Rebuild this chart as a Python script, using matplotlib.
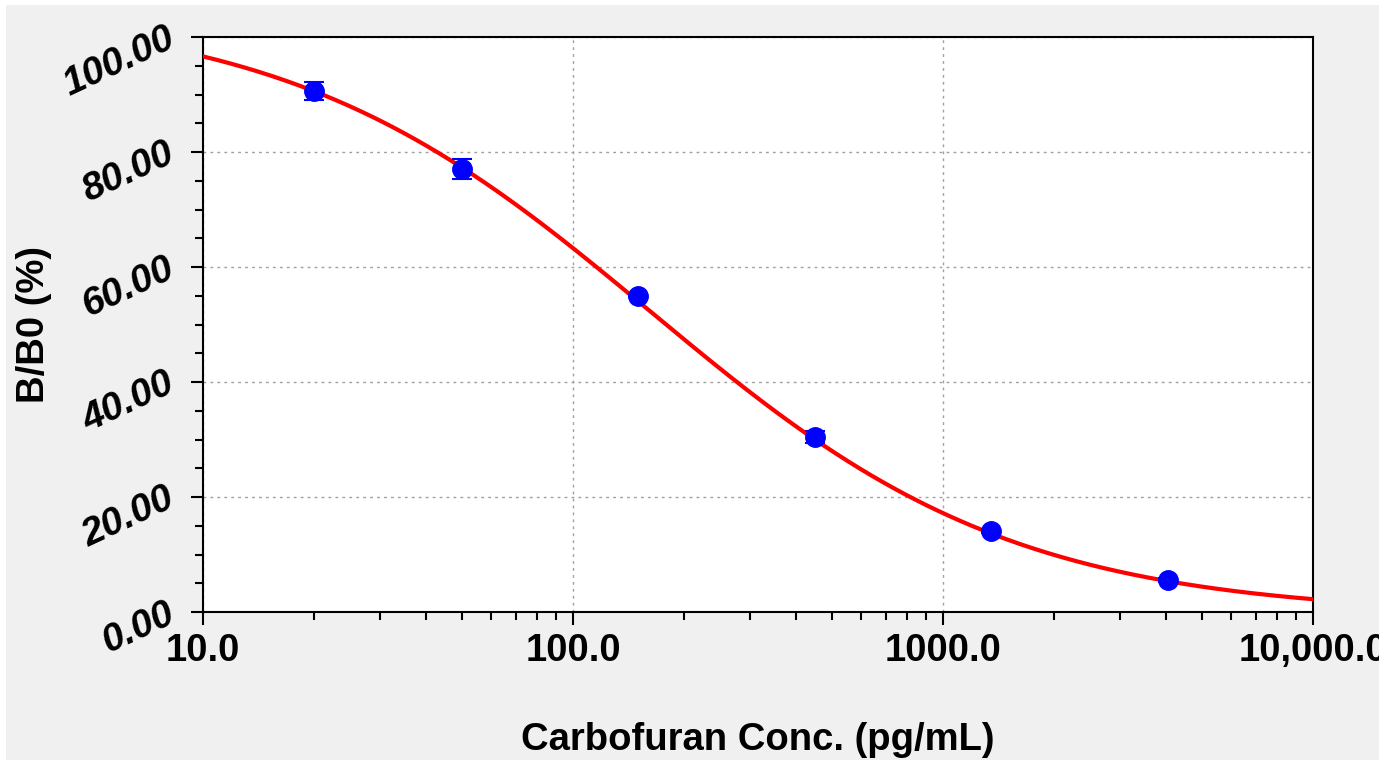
import numpy as np
import matplotlib
matplotlib.use("Agg")
import matplotlib.pyplot as plt
from matplotlib.patches import Rectangle
from matplotlib.ticker import FixedLocator, MultipleLocator, NullFormatter

# standard points (pg/mL) and B/B0 (%)
conc = [20, 50, 150, 450, 1350, 4050]
bb0 = [90.6, 77.0, 55.0, 30.4, 14.1, 5.6]
bb0_err = [1.5, 1.7, 0.3, 1.0, 0.3, 0.3]

# four-parameter logistic fit
top, slope, ic50, bottom = 105.0, 0.88, 162.0, -0.5

x_ticks = [10, 100, 1000, 10000]
x_tick_labels = ["10.0", "100.0", "1000.0", "10,000.0"]
y_ticks = [0, 20, 40, 60, 80, 100]

plt.rcParams['font.family'] = ['Liberation Sans', 'DejaVu Sans']

fig = plt.figure(figsize=(13.97, 7.6), dpi=100)
fig.patch.set_facecolor('#f0f0f0')
ax = fig.add_axes([203 / 1397, 1 - 612 / 760, (1313 - 203) / 1397, (612 - 37) / 760])
ax.set_facecolor('white')

xs = np.logspace(1, 4, 400)
fit = bottom + (top - bottom) / (1 + (xs / ic50) ** slope)
ax.plot(xs, fit, color='#ff0000', lw=3, zorder=3)

ax.errorbar(conc, bb0, yerr=bb0_err, fmt='o', color='#0000ff', ms=14,
            ecolor='#0000ff', elinewidth=1.5, capsize=7, capthick=1.5, zorder=4)

ax.set_xscale('log')
ax.set_xlim(10, 10000)
ax.set_ylim(0, 100)

ax.xaxis.set_major_locator(FixedLocator(x_ticks))
ax.set_xticklabels(x_tick_labels)
ax.xaxis.set_minor_formatter(NullFormatter())
ax.yaxis.set_major_locator(FixedLocator(y_ticks))
ax.yaxis.set_minor_locator(MultipleLocator(5))
ax.set_yticklabels(["%.2f" % v for v in y_ticks])

ax.grid(True, which='major', color='#a0a0a0', linestyle=(0, (2, 3)), lw=1)

for s in ax.spines.values():
    s.set_linewidth(1.5)
    s.set_color('black')

ax.tick_params(which='major', length=9, width=1.5, direction='out')
ax.tick_params(which='minor', length=6, width=1.5, direction='out')
ax.tick_params(axis='x', which='major', labelsize=27.5, pad=6)
ax.tick_params(axis='y', which='major', labelsize=28, pad=13)

for lab in ax.get_xticklabels():
    lab.set_fontweight('bold')
for lab in ax.get_yticklabels():
    lab.set_fontweight('bold')
    lab.set_fontstyle('italic')
    lab.set_rotation(25)
    lab.set_rotation_mode('anchor')
    lab.set_ha('right')
    lab.set_va('center')

ax.set_xlabel('Carbofuran Conc. (pg/mL)', fontsize=27.5, fontweight='bold')
ax.xaxis.set_label_coords(0.5, -0.192)
ax.set_ylabel('B/B0 (%)', fontsize=27.5, fontweight='bold')
ax.yaxis.set_label_coords(-0.136, 0.5)

# white strips where the original screenshot was cropped
for r in [(0, 0, 6 / 1397, 1), (1379 / 1397, 0, 18 / 1397, 1), (0, 755 / 760, 1, 5 / 760)]:
    fig.add_artist(Rectangle((r[0], r[1]), r[2], r[3], transform=fig.transFigure,
                             facecolor='white', edgecolor='none', zorder=100))

fig.savefig('out.png', dpi=100, facecolor=fig.get_facecolor())
